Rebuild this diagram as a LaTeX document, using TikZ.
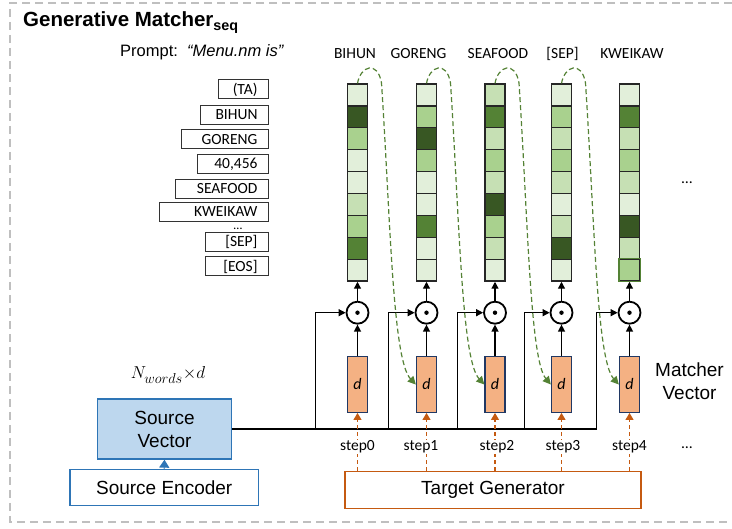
\documentclass[tikz,border=0pt]{standalone}
\usepackage{fontspec}
\setmainfont{Liberation Sans}
\newfontfamily\calfont{Carlito}
\usetikzlibrary{arrows.meta}
\definecolor{gL}{HTML}{E2EFDA}
\definecolor{gMa}{HTML}{C6E0B4}
\definecolor{gMb}{HTML}{A9D18E}
\definecolor{gDa}{HTML}{548235}
\definecolor{gDb}{HTML}{385723}
\definecolor{oFill}{HTML}{F4B183}
\definecolor{oLine}{HTML}{C55A11}
\definecolor{navy}{HTML}{203864}
\definecolor{bFill}{HTML}{BDD7EE}
\definecolor{bLine}{HTML}{2E75B6}
\definecolor{frameGray}{HTML}{BFBFBF}
\begin{document}
\begin{tikzpicture}[x=1pt,y=-1pt,
  cell/.style={draw=black!85,line width=1.3pt,minimum width=20pt,minimum height=21.9pt,inner sep=0pt},
  tok/.style={draw=black!80,line width=1pt,minimum height=19pt,inner xsep=11pt,inner ysep=0pt,anchor=east,align=right,font=\calfont\fontsize{15.5}{18}\selectfont},
  hdr/.style={anchor=base,font=\calfont\fontsize{15.5}{18}\selectfont},
  odot/.style={circle,draw,line width=1.8pt,minimum size=22pt,inner sep=0pt,
    path picture={\fill (path picture bounding box.center) circle (2.2pt);}},
  obox/.style={draw=navy,fill=oFill,line width=1.3pt,minimum width=20pt,minimum height=55.6pt,inner sep=0pt,font=\calfont\itshape\fontsize{16}{18}\selectfont},
  arr/.style={line width=1.3pt,-{Triangle[length=7pt,width=7pt]}},
  odash/.style={draw=oLine,line width=1.2pt,dash pattern=on 4pt off 3pt,-{Triangle[length=7pt,width=8pt]}},
  gcurve/.style={draw=gDa,line width=1.2pt,dash pattern=on 5pt off 3pt,-{Triangle[length=8pt,width=8pt]}},
  steplab/.style={fill=white,inner sep=1pt,font=\calfont\fontsize{15.5}{18}\selectfont},
  bigtxt/.style={font=\fontsize{19}{23}\selectfont,align=center}
]
\useasboundingbox (0,0) rectangle (732,529);
% frame
\draw[frameGray,line width=1.5pt,dash pattern=on 8pt off 5pt] (732,3) -- (10,3) -- (10,522) -- (732,522);
% title
\node[anchor=base west,inner sep=0pt,font=\bfseries\fontsize{20.5}{24}\selectfont] (title) at (23,27) {Generative Matcher\textsubscript{seq}};
% prompt
\node[anchor=base west,inner sep=0pt,font=\fontsize{16.5}{20}\selectfont] (prompt) at (120,57) {Prompt:\ \ \textit{“Menu.nm is”}};
% token list
\node[tok,text width=28pt] (t1) at (269,89.5) {(TA)};
\node[tok,text width=46pt] (t2) at (269,115) {BIHUN};
\node[tok,text width=65pt] (t3) at (269,139.5) {GORENG};
\node[tok,text width=49pt] (t4) at (269,164) {40,456};
\node[tok,text width=71pt] (t5) at (269,189) {SEAFOOD};
\node[tok,text width=87pt] (t6) at (269,212) {KWEIKAW};
\node[anchor=base,inner sep=0pt,font=\calfont\fontsize{12.5}{14}\selectfont] (tdots) at (238,229.5) {…};
\node[tok,text width=41pt] (t7) at (269,242) {[SEP]};
\node[tok,text width=41pt] (t8) at (269,266.5) {[EOS]};
% headers
\node[hdr] (h1) at (355,59) {BIHUN};
\node[hdr] (h2) at (418.5,59) {GORENG};
\node[hdr] (h3) at (498,59) {SEAFOOD};
\node[hdr] (h4) at (562.5,59) {[SEP]};
\node[hdr] (h5) at (632,59) {KWEIKAW};
% columns
\foreach \x/\n/\cols in {
  357.5/1/{gL,gDb,gMb,gL,gL,gMa,gMb,gDa,gL},
  426.5/2/{gL,gMb,gDb,gMb,gL,gL,gDa,gL,gL},
  495/3/{gMa,gDa,gMa,gMb,gMa,gDb,gMb,gMa,gL},
  561.5/4/{gL,gMb,gMa,gMb,gMa,gL,gMa,gDb,gL},
  629.5/5/{gL,gDa,gMa,gMb,gMa,gL,gDb,gMa,gMb}} {
  \foreach \c [count=\i] in \cols {
    \node[cell,fill=\c] (v\n-\i) at ({\x},{94.95+(\i-1)*21.9}) {};
  }
  \node[odot] (m\n) at ({\x},312.7) {};
  \node[obox] (o\n) at ({\x},384.5) {d};
  \draw[arr] (o\n) -- (m\n);
  \draw[arr] (m\n) -- (v\n-9);
}
\draw[draw=gDa,line width=1.3pt] (v5-9.north west) rectangle (v5-9.south east);
% source side
\node[draw=bLine,fill=bFill,line width=1.3pt,minimum width=134.4pt,minimum height=60pt,inner sep=0pt,bigtxt] (sv) at (164.5,429) {Source\\Vector};
\node[draw=bLine,fill=white,line width=1.3pt,minimum width=188.3pt,minimum height=36.4pt,inner sep=0pt,bigtxt] (enc) at (164.2,487.5) {Source Encoder};
\draw[bLine,line width=1.3pt,-{Triangle[length=8pt,width=10pt]}] (enc.north) -- (sv.south);
\node[font=\fontsize{19}{22}\selectfont] (nwd) at (168,375) {$N_{words}{\times}d$};
% base line and elbows
\coordinate (e1) at (315.7,429);
\coordinate (e2) at (388.5,429);
\coordinate (e3) at (457.7,429);
\coordinate (e4) at (524.3,429);
\coordinate (e5) at (596.7,429);
\draw[line width=2pt] (sv.east) -- (e3);
\draw[line width=1.5pt] (e3) -- (e5);
\foreach \n in {1,...,5} {
  \draw[arr] (e\n) |- (m\n.west);
}
% target generator
\node[draw=oLine,fill=white,line width=1.5pt,minimum width=296pt,minimum height=36.6pt,inner sep=0pt,bigtxt] (tg) at (493,490) {Target Generator};
\foreach \n/\sx/\s in {1/357.5/0,2/421/1,3/497/2,4/563/3,5/629.5/4} {
  \draw[odash] (o\n.south |- tg.north) -- (o\n.south);
  \node[steplab] (s\n) at (\sx,447) {step\s};
}
% green curves
\foreach \x/\n/\m in {357.5/1/2,426.5/2/3,495/3/4,561.5/4/5} {
  \draw[gcurve] (v\n-1.north) .. controls ({\x+3},66) and ({\x+20},60) .. ({\x+24},83)
     .. controls ({\x+33},220) and ({\x+35},360) .. (o\m.west);
}
% right side labels
\node[bigtxt] (mv) at (689.5,381) {Matcher\\Vector};
\node[hdr] (d1) at (687,184) {…};
\node[hdr] (d2) at (687,449) {…};
\end{tikzpicture}
\end{document}
